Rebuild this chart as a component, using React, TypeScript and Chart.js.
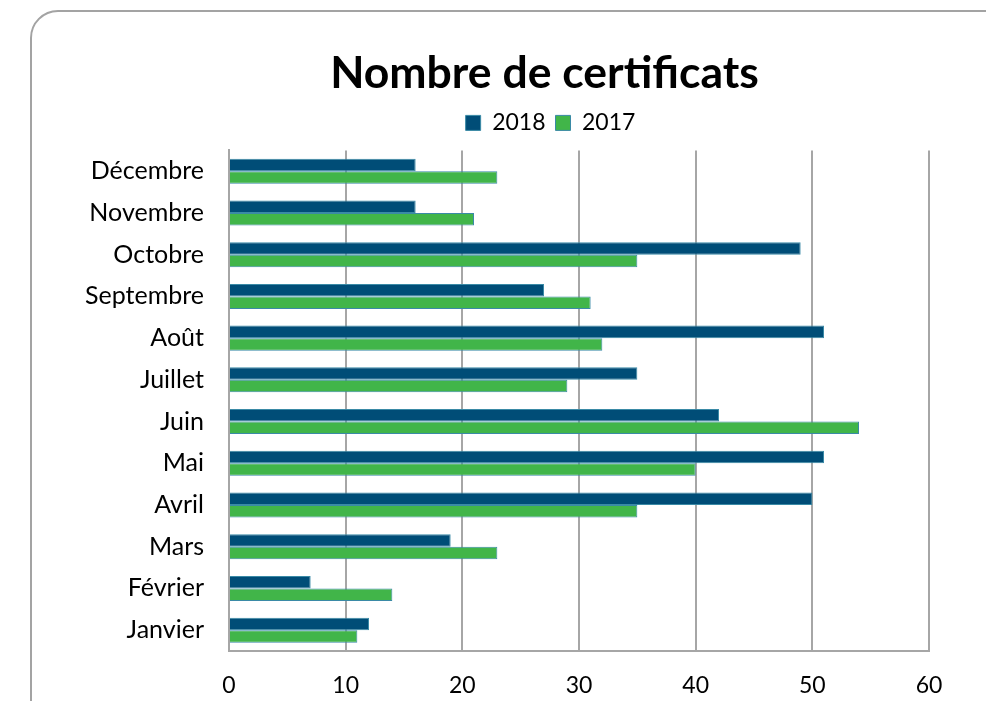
import React, { useEffect, useRef } from "react";
import { Chart, registerables } from "chart.js";

Chart.register(...registerables);

const months = [
  "Décembre",
  "Novembre",
  "Octobre",
  "Septembre",
  "Août",
  "Juillet",
  "Juin",
  "Mai",
  "Avril",
  "Mars",
  "Février",
  "Janvier",
];
const values2018 = [16, 16, 49, 27, 51, 35, 42, 51, 50, 19, 7, 12];
const values2017 = [23, 21, 35, 31, 32, 29, 54, 40, 35, 23, 14, 11];
const seriesNames = ["2018", "2017"];
const titleText = "Nombre de certificats";

const FONT = "Lato";

const shiftHeader = {
  id: "shiftHeader",
  afterLayout(chart: any) {
    const t = chart.titleBlock;
    if (t) {
      t.left += 80;
      t.right += 80;
    }
    const l = chart.legend;
    if (l) {
      l.left += 86;
      l.right += 86;
    }
  },
};

export default function App() {
  const ref = useRef<HTMLCanvasElement | null>(null);

  useEffect(() => {
    if (!ref.current) return;
    const chart = new Chart(ref.current, {
      type: "bar",
      data: {
        labels: months,
        datasets: [
          {
            label: seriesNames[0],
            data: values2018,
            backgroundColor: "#004d77",
            borderColor: "#3a8aa6",
            borderWidth: 1,
            categoryPercentage: 0.6,
            barPercentage: 1.0,
          },
          {
            label: seriesNames[1],
            data: values2017,
            backgroundColor: "#41b549",
            borderColor: "#3a8aa6",
            borderWidth: 1,
            categoryPercentage: 0.6,
            barPercentage: 1.0,
          },
        ],
      },
      plugins: [shiftHeader],
      options: {
        indexAxis: "y",
        responsive: false,
        animation: false,
        layout: { padding: { left: 0, right: 57, top: 0, bottom: 0 } },
        plugins: {
          title: {
            display: true,
            text: titleText,
            color: "#000",
            font: { family: FONT, size: 44.5, weight: "bold" },
            padding: { top: 47, bottom: 1 },
          },
          legend: {
            display: true,
            position: "top",
            labels: {
              color: "#000",
              font: { family: FONT, size: 23 },
              boxWidth: 15,
              boxHeight: 15,
              padding: 10,
            },
          },
          tooltip: { enabled: false },
        },
        scales: {
          x: {
            min: 0,
            max: 60,
            ticks: {
              stepSize: 10,
              color: "#000",
              font: { family: FONT, size: 23 },
              padding: 21,
            },
            grid: {
              color: "#a6a6a6",
              lineWidth: 2,
              drawTicks: false,
            },
            border: { display: true, color: "#a6a6a6", width: 2 },
            afterFit: (scale: any) => {
              scale.height = 50;
            },
          },
          xTopSpacer: {
            type: "linear",
            position: "top",
            display: true,
            min: 0,
            max: 60,
            ticks: { display: false },
            grid: { display: false, drawTicks: false },
            border: { display: false },
            afterFit: (scale: any) => {
              scale.height = 6;
            },
          },
          y: {
            ticks: {
              color: "#000",
              font: { family: FONT, size: 25 },
              padding: 25,
            },
            grid: { display: false, drawTicks: false },
            border: { display: true, color: "#a6a6a6", width: 2 },
            afterFit: (scale: any) => {
              scale.width = 229;
            },
          },
        },
      },
    });
    return () => chart.destroy();
  }, []);

  return (
    <div
      style={{
        position: "absolute",
        left: 0,
        top: 0,
        width: 986,
        height: 701,
        overflow: "hidden",
        background: "#fff",
      }}
    >
      <div
        style={{
          position: "absolute",
          left: 30,
          top: 10,
          width: 1100,
          height: 800,
          border: "2px solid #a3a3a3",
          borderRadius: 28,
          boxSizing: "border-box",
        }}
      />
      <canvas
        ref={ref}
        width={986}
        height={701}
        style={{ position: "absolute", left: 0, top: 0, width: 986, height: 701 }}
      />
    </div>
  );
}
